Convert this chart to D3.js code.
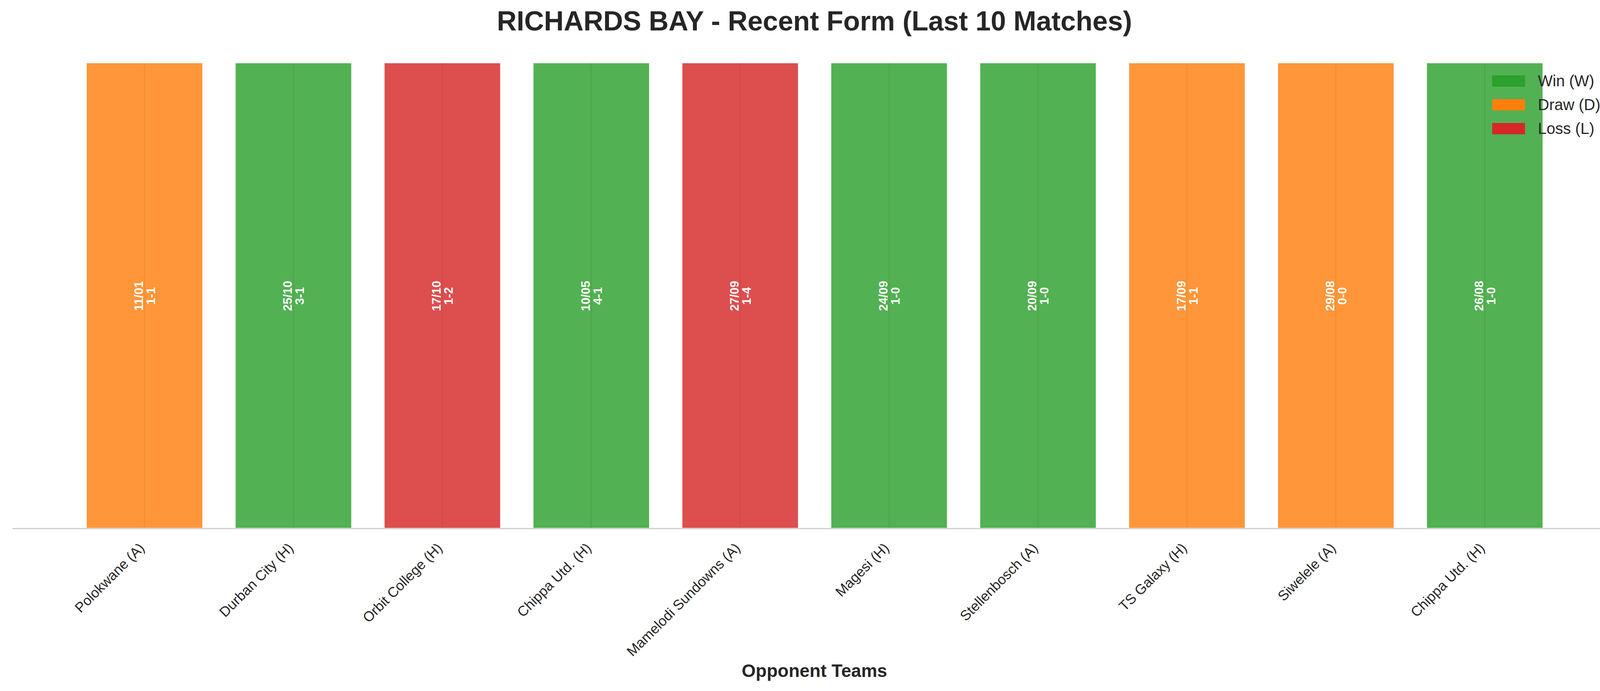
<!DOCTYPE html>
<html>
<head>
<meta charset="utf-8">
<script src="https://cdn.jsdelivr.net/npm/d3@7"></script>
<style>
  body { margin: 0; background: #fff; }
  text { font-family: "Liberation Sans", Arial, sans-serif; }
</style>
</head>
<body>
<div id="chart"></div>
<script>
const opponents = ["Polokwane (A)", "Durban City (H)", "Orbit College (H)", "Chippa Utd. (H)",
    "Mamelodi Sundowns (A)", "Magesi (H)", "Stellenbosch (A)", "TS Galaxy (H)", "Siwelele (A)", "Chippa Utd. (H)"];
const results = ["D", "W", "L", "W", "L", "W", "W", "D", "D", "W"];
const dates = ["11/01", "25/10", "17/10", "10/05", "27/09", "24/09", "20/09", "17/09", "29/08", "26/08"];
const scores = ["1-1", "3-1", "1-2", "4-1", "1-4", "1-0", "1-0", "1-1", "0-0", "1-0"];
const legendItems = [["W", "Win (W)"], ["D", "Draw (D)"], ["L", "Loss (L)"]];

const colors = { W: "#2ca02c", D: "#ff7f0e", L: "#d62728" };

const width = 4170, height = 1770;
const svg = d3.select("#chart").append("svg")
    .attr("width", width).attr("height", height);

const axisY = 1354, topY = 160;
const x = d3.scaleLinear().domain([0, opponents.length - 1]).range([370, 3801]);
const y = d3.scaleLinear().domain([0, 1]).range([axisY, topY]);
const barW = 300;

// bars
svg.selectAll(".bar")
    .data(results)
    .enter().append("rect")
    .attr("x", (d, i) => x(i) - barW / 2)
    .attr("y", y(1))
    .attr("width", barW)
    .attr("height", y(0) - y(1))
    .attr("fill", d => colors[d])
    .attr("fill-opacity", 0.82)
    .attr("stroke", "#fff")
    .attr("stroke-width", 4);

// vertical grid at ticks
svg.selectAll(".grid")
    .data(opponents)
    .enter().append("line")
    .attr("x1", (d, i) => x(i)).attr("x2", (d, i) => x(i))
    .attr("y1", y(1)).attr("y2", y(0))
    .attr("stroke", "#000").attr("stroke-opacity", 0.05)
    .attr("stroke-width", 3);

// axis line
svg.append("line")
    .attr("x1", 32).attr("x2", 4170)
    .attr("y1", axisY).attr("y2", axisY)
    .attr("stroke", "#cccccc").attr("stroke-width", 3);

// bar annotations
const ann = svg.selectAll(".ann")
    .data(results)
    .enter().append("text")
    .attr("transform", (d, i) => `translate(${x(i)},758) rotate(-90)`)
    .attr("text-anchor", "middle")
    .attr("fill", "#fff")
    .attr("font-weight", "bold")
    .attr("font-size", 31);
ann.append("tspan").attr("x", 0).attr("dy", -4).text((d, i) => dates[i]);
ann.append("tspan").attr("x", 0).attr("dy", 31).text((d, i) => scores[i]);

// x tick labels
svg.selectAll(".tick")
    .data(opponents)
    .enter().append("text")
    .attr("transform", (d, i) => `translate(${x(i) + 2},${axisY + 52}) rotate(-45)`)
    .attr("text-anchor", "end")
    .attr("font-size", 36)
    .attr("fill", "#262626")
    .text(d => d);

// title and x label
svg.append("text")
    .attr("x", 2085).attr("y", 78)
    .attr("text-anchor", "middle")
    .attr("font-size", 70).attr("font-weight", "bold")
    .attr("fill", "#262626")
    .text("RICHARDS BAY - Recent Form (Last 10 Matches)");

svg.append("text")
    .attr("x", 2085).attr("y", 1734)
    .attr("text-anchor", "middle")
    .attr("font-size", 46).attr("font-weight", "bold")
    .attr("fill", "#262626")
    .text("Opponent Teams");

// legend
const lg = svg.selectAll(".legend")
    .data(legendItems)
    .enter().append("g")
    .attr("transform", (d, i) => `translate(3820,${193 + i * 61})`);
lg.append("rect").attr("width", 84).attr("height", 29)
    .attr("fill", d => colors[d[0]]);
lg.append("text").attr("x", 117).attr("y", 28)
    .attr("font-size", 40).attr("fill", "#262626")
    .text(d => d[1]);
</script>
</body>
</html>
